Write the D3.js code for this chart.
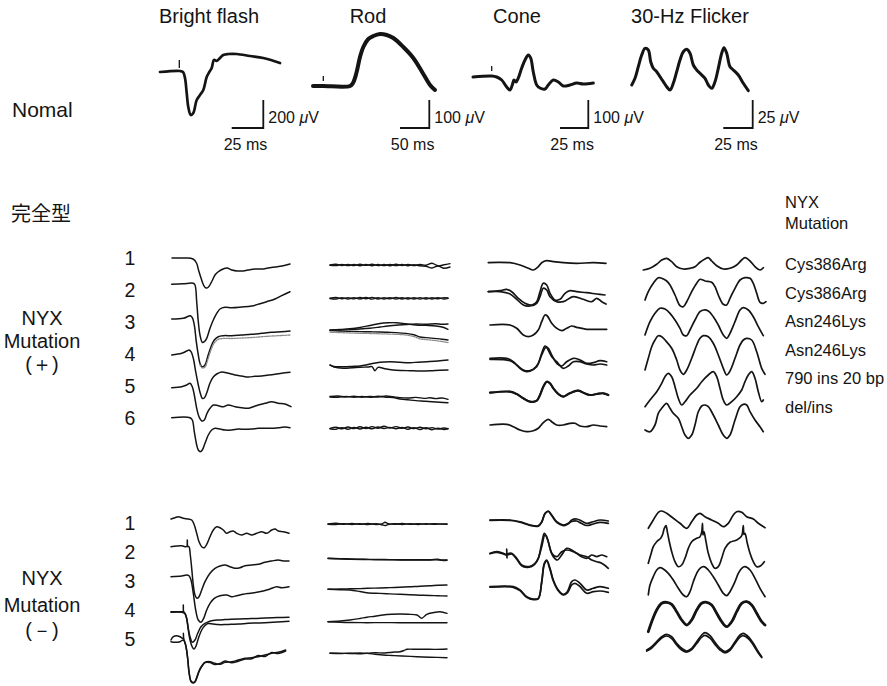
<!DOCTYPE html>
<html>
<head>
<meta charset="utf-8">
<script src="https://cdn.jsdelivr.net/npm/d3@7"></script>
<style>
  body { margin: 0; background: #fff; }
  svg { display: block; font-family: "Liberation Sans", Arial, Helvetica, sans-serif; }
</style>
</head>
<body>
<svg id="chart" width="887" height="686"></svg>
<script>
// ---- labels ----
const columnTitles = ["Bright flash", "Rod", "Cone", "30-Hz Flicker"];
const ampLabels = ["200", "100", "100", "25"];          // µV
const timeLabels = ["25 ms", "50 ms", "25 ms", "25 ms"];
const barTime = [31.6, 29.3, 28.3, 29.4];               // sweep units per bar
const barAmp = [28, 28, 28, 28];
const posRowLabels = ["1", "2", "3", "4", "5", "6"];
const negRowLabels = ["1", "2", "3", "4", "5"];
const mutationNames = ["Cys386Arg", "Cys386Arg", "Asn246Lys", "Asn246Lys", "790 ins 20 bp", "del/ins"];

// ---- normal responses [t, v] ----
const normalBright = [[0,8],[20,9],[23,8],[25,2],[26.7,-13],[28.3,-27],[30.7,-35],[33.3,-33],[36.7,-20],[40,-15],[43.3,-10],[46.7,3],[49.3,8],[51.7,12],[54,20],[56.7,19],[60,22],[63.3,25],[68.3,26],[76.7,26],[90,24],[103.3,22],[120,17]];
const normalRod = [[0,-6],[10,-6],[37,-6],[40,-3],[43.4,7],[47,23],[50.3,33],[55.3,41],[60.3,44],[67,46],[73.7,45],[80.3,42],[90.3,33],[100.3,22],[110.3,6],[117,-5],[122,-10]];
const normalCone = [[0,3],[18.7,4],[23.7,3],[28.7,0],[33.7,-7],[37,-10],[39.3,-5],[41,0],[43,-2],[45.3,2],[48.7,12],[52,20],[55.3,25],[57.7,22],[60.3,8],[63.7,-5],[67,-8],[72,-9],[75.3,-5],[80.3,0],[85.3,-2],[90.3,-6],[97,-5],[103.7,-3],[110.3,-4],[120.3,-3]];
const normalFlicker = [[0.7,-5],[4,1.7],[7.3,13.3],[10.7,25],[14,31.7],[17.3,30],[19.7,18.3],[22.3,11.7],[25.7,8.3],[29,3.3],[32.3,-1.7],[35.7,-6.7],[39,-10],[42.3,-3.3],[45.7,8.3],[49,20],[52.3,28.3],[55.7,30.7],[59,26.7],[62.3,15],[65.7,10],[69,6.7],[74,1.7],[77.3,-5],[80.7,-8.3],[84,-1.7],[87.3,11.7],[90.7,26.7],[93,32.3],[95.7,26.7],[99,13.3],[102.3,10],[107.3,5],[112.3,-3.3],[117.3,-10.7]];
const stimMarks = [[19.3, 12, 20], [10.3, -1, 4], [18.7, 9, 14]];   // [t, v1, v2]

// ---- NYX mutation (+): rows of traces [t, v] ----
const posBright = [
  [[[1,0],[14,0],[22,-1],[25.5,-5],[27.5,-12],[30,-20],[32.5,-27],[35,-30],[37.5,-29],[41,-23],[44,-17],[47,-14],[52,-11],[56,-10],[61,-12],[66,-13],[71,-13],[77,-12],[84,-11],[91,-11],[97,-10],[104,-9],[111,-8],[119,-6]]],
  [[[0.7,5.7],[12,6.2],[22.3,6.7],[24,5],[25.7,-11.7],[27.3,-31.7],[29,-45],[31.3,-52.3],[33.3,-51.7],[35.7,-48.3],[39,-38.3],[42.3,-30],[45.7,-23.3],[49,-19],[54,-17.3],[60.7,-17.7],[70.7,-17],[80.7,-16],[89,-13.7],[95.7,-11.7],[104,-9],[110.7,-5.7],[119,-1.7]]],
  [[[0.7,3],[12.3,3.7],[17.3,5.7],[19.3,6.3],[21.3,4.3],[23.3,-3],[25.3,-19.7],[27.3,-33],[29.3,-42.3],[31.3,-45],[34,-43],[36.7,-34.7],[40,-24.7],[43.3,-18],[47.3,-14.7],[52.3,-13.7],[60.7,-13.7],[70.7,-13],[80.7,-12.3],[90.7,-11.3],[100.7,-10.3],[110.7,-9.7],[119,-9]]],
  [[[0.7,-1],[10.7,0.7],[15.7,3],[18,4],[20,2.3],[22.3,-4.3],[24.7,-17.7],[27.3,-31],[29.3,-39.3],[31.3,-44.3],[33.3,-44],[35.7,-39],[39,-29],[42.3,-23],[45.7,-20],[50.7,-18],[57.3,-19.3],[64,-21],[70.7,-22],[77.3,-23],[84,-22.3],[90.7,-22],[97.3,-21],[104,-20.3],[110.7,-19.3],[119,-18.3]]],
  [[[0.7,-1.7],[10.7,-0.7],[15.7,1],[19,2.7],[21.3,-0.7],[23.3,-9],[25.7,-22.3],[28,-30.7],[30.7,-35],[33.3,-34],[36,-27.3],[39,-22.3],[42.3,-19],[47.3,-19.7],[52.3,-20.7],[57.3,-19],[64,-20.7],[70.7,-21.7],[77.3,-22.3],[82.3,-20.7],[87.3,-19],[94,-17.3],[100.7,-15.7],[107.3,-17.3],[114,-18],[120,-20.7]]],
  [[[0.7,0.3],[19,0.3],[21.3,-2],[23.3,-13.7],[25.7,-27],[27.3,-32],[29.3,-33.7],[31.3,-32],[34,-25.3],[37.3,-17],[40.7,-12],[44,-10.3],[49,-11],[54,-12],[60.7,-12],[67.3,-11],[74,-11.3],[80.7,-11],[87.3,-10.3],[94,-10.3],[100.7,-10.3],[107.3,-9.7],[114,-9],[119,-9.7]]]
];
const posBrightGrey = [[3, [[29,-43],[31.3,-46],[34,-45],[37,-37],[40,-28],[43.3,-21],[47,-17.5],[52,-16.5],[61,-16.5],[71,-16],[81,-15.5],[91,-14.7],[101,-14],[111,-13.5],[119,-13]]]];

const posRod = [
  [[[0,-7],[6,-6.3],[12,-7.5],[18,-6.4],[24,-7.6],[30,-6.3],[36,-7.4],[42,-6.2],[48,-7.6],[54,-6.5],[60,-7.8],[66,-6.2],[72,-7.5],[78,-6.4],[84,-7.6],[90,-6.5],[96,-7.2],[102,-5.2],[108,-7.8],[114,-6.8],[120,-5.6]],
   [[0,-7.3],[6,-7.6],[12,-6.4],[18,-7.6],[24,-6.5],[30,-7.7],[36,-6.4],[42,-7.7],[48,-6.5],[54,-7.6],[60,-6.4],[66,-7.6],[72,-6.5],[78,-7.7],[84,-6.6],[90,-7.8],[96,-8.2],[102,-10],[108,-8],[114,-10.3],[120,-9]]],
  [[[0,-8.3],[6,-7.5],[12,-8.8],[18,-7.6],[24,-8.9],[30,-7.5],[36,-8.8],[42,-7.4],[48,-9],[54,-7.6],[60,-8.9],[66,-7.5],[72,-9],[78,-7.7],[84,-9],[90,-7.6],[96,-9],[102,-7.8],[108,-8.8],[114,-7.6],[118,-8]],
   [[0,-8.5],[6,-9],[12,-7.7],[18,-9],[24,-7.6],[30,-9],[36,-7.5],[42,-9.1],[48,-7.6],[54,-9],[60,-7.6],[66,-9.1],[72,-7.7],[78,-9],[84,-7.8],[90,-9.1],[96,-7.8],[102,-9],[108,-7.7],[114,-9],[118,-8.4]]],
  [[[0,-8],[10,-7.5],[20,-6.8],[30,-5.5],[40,-3.5],[50,-1.5],[58,-0.8],[66,-0.7],[76,-1.8],[86,-3],[96,-3.4],[106,-4],[112,-5],[118,-7.3]],
   [[0,-8.2],[10,-8],[20,-7.6],[30,-7],[40,-6.2],[50,-5],[58,-4],[66,-3.2],[76,-2.6],[86,-2],[96,-2.2],[106,-1.8],[112,-2.3],[118,-2]],
   [[0,-8.6],[10,-9],[20,-9.4],[30,-9.6],[40,-9.8],[50,-10],[58,-10.3],[66,-10.6],[76,-11.4],[84,-12.8],[90,-15],[96,-15.6],[104,-16.4],[112,-17.2],[118,-18]]],
  [[[0,-11],[4,-12.5],[13,-12.7],[22,-12.4],[30,-12],[36,-11],[40,-10],[47,-8.7],[54,-8],[60,-7.7],[70,-8.3],[80,-8.7],[88,-8.2],[97,-7.7],[108,-7],[118,-6]],
   [[0,-11],[4,-13],[13,-14.3],[22,-13.8],[30,-13.3],[38,-13],[42,-12.7],[45,-16.7],[48,-13.3],[55,-14.8],[63,-16],[72,-16.5],[80,-16.7],[90,-17],[100,-16.8],[110,-16.2],[118,-16]]],
  [[[0,-10.5],[8,-10],[16,-11],[24,-10.2],[32,-11.2],[40,-10.4],[48,-11],[56,-10],[63,-10.8],[70,-11.6],[78,-12],[86,-11.4],[94,-12.4],[100,-11.8],[106,-12.6],[112,-12],[118,-13.3]],
   [[0,-11],[8,-11.3],[16,-10.4],[24,-11.3],[32,-10.4],[40,-11.3],[48,-10.3],[56,-11.2],[63,-11.5],[70,-13],[78,-13.8],[86,-14.6],[94,-15.2],[102,-15.8],[110,-16.3],[118,-16.7]]],
  [[[0,-10.5],[6,-9.2],[12,-10.8],[18,-9],[24,-10.6],[30,-8.8],[36,-10.5],[42,-8.6],[48,-10.2],[54,-8.3],[60,-10],[66,-8.6],[72,-10.4],[78,-9],[84,-10.6],[90,-9.2],[96,-10.8],[102,-9.6],[108,-11],[114,-10],[118,-11]],
   [[0,-10.8],[6,-11.3],[12,-9.6],[18,-11.2],[24,-9.4],[30,-11],[36,-9.2],[42,-10.8],[48,-9],[54,-10.5],[60,-9.4],[66,-10.8],[72,-9.4],[78,-11.2],[84,-9.6],[90,-11.5],[96,-9.8],[102,-11.7],[108,-10.2],[114,-11.6],[118,-10.4]]]
];
const posRodGrey = [[3, [[0,-10.2],[10,-10.6],[20,-11],[30,-11.3],[40,-11.5],[50,-11.8],[58,-12],[66,-12.3],[76,-13],[84,-14.5],[90,-16.8],[96,-17.6],[104,-18.4],[112,-19.5],[118,-20.5]]]];

const posCone = [
  [[[0.3,-4.7],[10,-4.3],[22,-4.7],[32,-7],[40.3,-10.3],[45.3,-12],[50.3,-8.7],[53.7,-4.7],[58.7,-2.7],[65.3,-3.7],[75.3,-4.7],[88.7,-5.3],[105.3,-4.7],[118,-5.3]]],
  [[[0.3,-1.7],[12,-0.7],[18.7,0.7],[23.7,-1.7],[30.3,-8.3],[37,-13.3],[43.7,-15],[48.7,-11.7],[52,-1.7],[55.3,6.7],[58.7,5],[62,-3.3],[67,-10],[72,-9.3],[77,-3.3],[82,-0.7],[88.7,-1.7],[98.7,-2.7],[108.7,-4],[117,-5]],
   [[0.3,-1.7],[12,-1.7],[22,-4],[28.7,-9.3],[35.3,-15],[42,-16],[48.7,-13.3],[52,-6.7],[55.3,1.7],[58.7,0],[62,-6.7],[68.7,-11.7],[75.3,-11.7],[85.3,-6.7],[95.3,-9.3],[103.7,-11.7],[108.7,-8.3],[113.7,-11.7],[118,-14]]],
  [[[2,-3],[22,-3],[28.7,-6.3],[35.3,-13],[40.3,-14.7],[45.3,-13],[50.3,-8],[53.7,0.3],[57,7],[59.3,6],[63.7,-1.3],[68.7,-6.3],[73.7,-8.7],[78.7,-6.3],[83.7,-4],[88.7,-5.3],[98.7,-7.3],[108.7,-7.3],[118.7,-7.3]]],
  [[[2,-4.3],[18.7,-4.3],[25.3,-7.7],[32,-14.3],[38.7,-17.7],[45.3,-15.3],[50.3,-9.3],[53.7,0.7],[57,8],[60.3,5.7],[63.7,-1],[68.7,-9.3],[73.7,-12],[78.7,-7.7],[85.3,-4.3],[92,-6],[98.7,-9.3],[105.3,-8.7],[112,-6.7],[118.7,-7.7]],
   [[2,-5.3],[22,-6.7],[28.7,-11],[35.3,-16],[42,-16.7],[48.7,-12.7],[53.7,-1],[58,6.7],[63.7,-2.7],[68.7,-7.7],[75.3,-14.3],[80.3,-12],[85.3,-7.7],[92,-7.7],[98.7,-10],[105.3,-11],[112,-10],[118.7,-11]]],
  [[[2,-6.7],[22,-5.7],[28.7,-8],[35.3,-12.3],[42,-15.7],[48.7,-14.7],[52,-9],[55.3,-0.7],[58.7,4.3],[62,2.7],[65.3,-2.3],[70.3,-8],[75.3,-10.7],[80.3,-8],[85.3,-5.7],[90.3,-4.7],[95.3,-6.7],[102,-9],[108.7,-8],[115.3,-7.3],[120.3,-9]]],
  [[[2,-7],[18.7,-6.3],[25.3,-8.7],[32,-12],[38.7,-13.7],[45.3,-12.7],[50.3,-10.3],[55.3,-4.7],[60.3,-1.3],[63.7,-3.7],[68.7,-7],[75.3,-7],[82,-5.3],[87,-5.3],[92,-8],[98.7,-8.7],[105.3,-7],[112,-8],[118.7,-8.7]]]
];

const posFlicker = [
  [[[0.3,-12],[7,-10.3],[13.7,-6.3],[18.7,-2],[23.7,-0.3],[28.7,-3.7],[33.7,-8.7],[40.3,-11],[47,-10.3],[52,-8.7],[57,-4.3],[62,-1],[65.3,0.3],[68.7,-3],[73.7,-7.7],[80.3,-11],[87,-10.3],[93.7,-7],[98.7,-2],[102,0.3],[107,-3],[112,-8.7],[117,-12],[120.3,-9.7]]],
  [[[2,-10],[5.3,-1.7],[10.3,6.7],[15.3,12.3],[18.7,11.7],[23.7,9],[27,5],[32,-5],[37,-15.7],[40.3,-16.7],[43.7,-11.7],[48.7,-1.7],[53.7,6.7],[57,10.7],[62,9],[68.7,7.7],[72,3.3],[75.3,-5],[80.3,-14.3],[83.7,-15],[87,-8.3],[92,1.7],[97,10],[102,12.3],[107,11.7],[110.3,6.7],[113.7,-3.3],[117,-12.3],[120.3,-13.3],[123,-11.7]]],
  [[[2,-13],[3.7,-8],[7,0.3],[12,8.7],[17,13.7],[22,13],[27,8.7],[32,2],[37,-6.3],[40.3,-13],[43.7,-13.7],[47,-8],[52,2],[57,10.3],[61,12],[65.3,11],[70.3,5.3],[75.3,-3],[80.3,-13],[83.7,-16.3],[87,-11.3],[92,0.3],[97,12],[100.3,14.3],[105.3,12],[110.3,5.3],[115.3,-4.7],[120.3,-13.7]]],
  [[[2,-16],[5.3,-4.3],[8.7,7.3],[12,14],[15.3,18.3],[18.7,17.3],[22,14],[28.7,5.7],[33.7,-6],[37,-16],[40.3,-20.3],[43.7,-16],[48.7,-4.3],[53.7,9],[57,15.7],[60.3,18.3],[65.3,17.3],[70.3,10.7],[75.3,-1],[80.3,-14.3],[83.7,-21],[87,-17],[92,-4.3],[97,9],[100.3,14],[103.7,15.7],[108.7,14],[113.7,2.3],[118.7,-14.3],[122,-20.3]]],
  [[[2,-20.7],[7,-14],[13.7,-5.7],[18.7,2.7],[22,9.3],[25.3,12.7],[28.7,9.3],[32,-0.7],[35.3,-12.3],[38.7,-19],[42,-15.7],[47,-9],[53.7,-2.3],[58.7,4.3],[65.3,11],[70.3,14.3],[73.7,9.3],[77,-2.3],[80.3,-14],[83.7,-19],[88.7,-15.7],[93.7,-10.7],[98.7,-4],[102,4.3],[105.3,11],[108.7,14.3],[112,7.7],[115.3,-5.7],[118.7,-15.7],[120.3,-14]]],
  [[[2,-12],[7,-13.7],[12,-7],[15.3,4.7],[18.7,9.7],[23.7,14.7],[27,9.7],[30.3,4.7],[35.3,-0.3],[38.7,-8.7],[42,-17],[45.3,-20.3],[48.7,-17],[52,-7],[55.3,6.3],[58.7,12],[62,13],[65.3,11.3],[70.3,3],[75.3,-7],[80.3,-17],[83.7,-20.3],[87,-17],[92,-2],[97,11.3],[100.3,13.7],[103.7,13],[107,6.3],[112,-2],[117,-8.7],[120.3,-13.7]]]
];

// ---- NYX mutation (−) ----
const negBright = [
  [[[0,4],[4,5.3],[7.3,6.3],[12.3,4.7],[17.3,4],[20.7,3],[23.3,-2],[25.7,-10.3],[28,-18.7],[30.7,-23.7],[33.3,-24.7],[35.7,-21.3],[39,-13.7],[42.3,-7],[45.7,-3.7],[49,-4.7],[52.3,-7],[55.7,-10.3],[59,-8.7],[62.3,-8],[65.7,-10.3],[70.7,-12],[75.7,-10.3],[80.7,-12],[85.7,-10.3],[90.7,-8.7],[95.7,-10.3],[100.7,-7],[104,-6],[107.3,-8],[112.3,-8.7],[118,-10.3]]],
  [[[0,5.3],[10.7,6.3],[14,5.3],[15.8,5.5],[16.3,12],[16.8,5.5],[18,5.3],[19.3,-3],[20.7,-16.3],[22.3,-33],[24,-43],[26,-46.3],[28,-44.7],[30.7,-38],[34,-29.7],[39,-21.3],[44,-16.3],[49,-14],[54,-13],[59,-14.7],[64,-16.3],[69,-15.7],[74,-13.7],[80.7,-13],[87.3,-12.3],[94,-10.3],[100.7,-9],[107.3,-8],[112.3,-9],[118,-9]]],
  [[[0,4.3],[10.7,5],[15.7,6],[18,5.3],[20,1],[22.3,-12.3],[24.7,-29],[27.3,-39],[30,-41.3],[32.7,-37.3],[35.7,-29],[39,-22.3],[43.3,-17.3],[49,-14.7],[55.7,-14],[60.7,-15.7],[65.7,-14.7],[72.3,-13.3],[79,-12.3],[85.7,-11.3],[92.3,-10],[99,-8],[105.7,-5.7],[110.7,-6.7],[118,-5.7]]],
  [[[0,-1.7],[10.7,-1.7],[12,-1.5],[12.3,5],[12.6,-1.6],[14,-3.3],[15.7,-8.3],[17.3,-18.3],[19,-26.7],[21.3,-32.3],[24,-30],[26.7,-23.3],[30,-16.7],[34,-13.3],[37,-12],[42,-10.6],[47,-10],[54,-9.6],[60,-9.3],[68,-9],[77,-8.7],[86,-8.4],[94,-8],[106,-7.6],[118,-7.3]],
   [[0,-2.3],[10.7,-2.3],[14,-3.8],[15.7,-9],[17.3,-20],[19,-30],[21.3,-37],[23,-39],[25,-36],[27.5,-28],[30.7,-20],[34,-15.5],[37,-13.5],[42,-14],[47,-14.6],[54,-14.6],[60,-14.3],[68,-14],[77,-13.3],[86,-13],[94,-12.7],[106,-12],[118,-11.3]]],
  [[[0,-1],[2.3,2.3],[5.7,3.3],[9,2.3],[12.1,0.7],[12.4,5.7],[12.7,0.5],[14.7,-6],[16.7,-19.3],[18,-32.7],[20,-42.7],[22,-44],[24,-43],[25.7,-39.3],[28,-32.7],[30.7,-27.7],[34,-23.3],[39,-22.7],[44,-24.3],[49,-25.3],[54,-23.3],[60.7,-22.7],[67.3,-21],[74,-19.3],[80.7,-18.7],[87.3,-17.7],[94,-16],[100.7,-14.3],[107.3,-13.3],[114.7,-11]],
   [[0,-2.7],[4,-3.3],[9,-2.7],[12.3,-1],[14.7,-6.5],[16.7,-20],[18,-33],[20,-42],[22,-43.5],[24,-42.5],[25.7,-38.5],[28,-32],[30.7,-27],[34,-23.5],[39,-23.5],[44,-25.5],[49,-24.5],[54,-22],[60.7,-23.8],[67.3,-22.2],[74,-20],[80.7,-19.8],[87.3,-16.5],[94,-17.5],[100.7,-13.5],[107.3,-14.5],[114.7,-12]]]
];

const negRod = [
  [[[-2,-1],[6,-0.3],[14,-1.3],[22,-0.4],[30,-1.4],[38,-0.5],[46,-1.5],[52,-0.8],[55,0.8],[58,-0.6],[64,-1.4],[72,-0.5],[80,-1.3],[88,-0.6],[96,-1.2],[104,-0.6],[112,-1.1],[117,-1]],
   [[-2,-1.2],[6,-1.5],[14,-0.6],[22,-1.5],[30,-0.6],[38,-1.6],[46,-0.7],[52,-1.8],[55,-2.6],[58,-1.6],[64,-0.6],[72,-1.5],[80,-0.7],[88,-1.5],[96,-0.8],[104,-1.4],[112,-0.9],[117,-1.2]]],
  [[[-2,-6.3],[10,-6.6],[20,-7],[30,-7.2],[40,-7.4],[50,-7.5],[60,-7.6],[70,-7.7],[80,-7.8],[90,-7.8],[100,-7.7],[110,-8],[117,-8]],
   [[-2,-6.5],[20,-7.2],[40,-7.6],[60,-7.8],[80,-8],[100,-8],[108,-7.2],[112,-8.4],[117,-8.2]]],
  [[[-2,-8.3],[10,-8],[20,-7.8],[30,-7.6],[37,-7.3],[50,-7],[60,-6.6],[70,-6.3],[80,-5.8],[90,-5.2],[100,-4.8],[108,-4.2],[117,-4]],
   [[-2,-8.3],[10,-8.7],[20,-9],[30,-10.5],[37,-11.7],[50,-12.4],[60,-12.9],[70,-13.3],[80,-13.8],[90,-14.2],[100,-14.5],[108,-14.8],[117,-15]]],
  [[[-2,-11.7],[10,-11],[20,-10],[30,-8.5],[37,-7.3],[45,-6.2],[53,-5],[62,-4.3],[70,-4],[78,-4.3],[87,-5],[91.7,-8.3],[96.7,-4.3],[104,-2.5],[110,-1.7],[117,-3.3]],
   [[-2,-11.7],[10,-12.2],[20,-12.5],[37,-12.7],[55,-12.6],[70,-12.7],[90,-12.8],[105,-12.7],[117,-12.7]]],
  [[[0,-14.3],[10,-14.2],[20,-14.5],[30,-14],[37,-14.3],[45,-13.8],[55,-14],[62,-13.2],[70,-12.7],[74,-11.5],[77,-10.3],[86.7,-10.3],[95,-10.2],[105,-10.4],[117,-10]],
   [[0,-14.3],[10,-14.6],[20,-14.2],[30,-14.8],[37,-14.4],[45,-15.2],[53,-16],[62,-16.5],[72,-17],[87,-17.7],[100,-18.2],[117,-18.7]]]
];

const negCone = [
  [[[2,3],[22,3],[32,1.3],[42,-2],[50.3,-2.7],[53.7,1.3],[57,9.7],[60.3,12],[63.7,8],[68.7,1.3],[75.3,-2],[80.3,-0.3],[83.7,3],[88.7,4],[93.7,2],[98.7,-0.3],[105.3,1.3],[112,3],[120.3,2]],
   [[2,2.6],[22,2.5],[32,0.8],[42,-2.4],[50.3,-3.1],[53.7,0.8],[57,9.2],[60.3,11.5],[63.7,7.4],[68.7,0.6],[75.3,-2.6],[80.3,-0.8],[83.7,1.5],[88.7,2],[93.7,-0.5],[98.7,-2.5],[105.3,-1],[112,0.7],[120.3,-0.3]]],
  [[[2,-1.3],[8.7,0.3],[15.3,-1.3],[18.4,-2.3],[18.7,3],[19,-6],[19.3,-2.3],[23.7,-1.3],[28.7,-6.3],[33.7,-13],[38.7,-14.7],[43.7,-13.7],[47,-11.3],[50.3,-6.3],[53.7,8.7],[56.3,18.7],[58.7,15.3],[62,3.7],[65.3,-4.7],[69.3,-8],[73.7,-3],[78.7,3.7],[83.7,2],[88.7,-1.3],[93.7,-4.7],[98.7,-6.3],[103.7,-3],[108.7,-4.7],[113.7,-3],[118.7,-4.7]],
   [[2,-1.8],[8.7,-0.4],[15.3,-2],[18.7,-3],[23.7,-2],[28.7,-7.2],[33.7,-13.8],[38.7,-15.4],[43.7,-14.4],[47,-12],[50.3,-6.3],[53.7,5.3],[57,17],[60.3,10.3],[63.7,-1.3],[68.7,-4.7],[73.7,0.3],[78.7,2],[85.3,0.3],[92,-3],[98.7,-4.7],[103.7,-8],[108.7,-9.7],[113.7,-11.3],[120.3,-16.3]]],
  [[[2,-5.7],[25.3,-5.7],[32,-9],[38.7,-15.7],[45.3,-18],[50.3,-17.3],[53.7,-0.7],[56.3,17.7],[58.7,21],[62,12.7],[65.3,1],[70.3,-9],[75.3,-13.3],[79.3,-10.7],[83.7,-0.7],[87,1],[92,-2.3],[98.7,-9],[105.3,-7.3],[112,-5.7],[120.3,-7.3]],
   [[2,-6.2],[25.3,-6.3],[32,-9.6],[38.7,-16.3],[45.3,-18.6],[50.3,-17.8],[53.7,-1.5],[56.3,16.5],[58.7,20],[62,11.5],[65.3,0],[70.3,-9.8],[75.3,-14],[79.3,-12],[83.7,-4],[87,-2.3],[92,-5.7],[98.7,-12.3],[105.3,-10.7],[112,-10],[120.3,-11.3]]]
];

const negFlicker = [
  [[[5.3,-5.3],[10.3,3],[15.3,10.7],[18.7,12],[23.7,9.7],[30.3,4.7],[37,-0.3],[43.7,-5.3],[48.7,1.3],[53.7,8],[57,9.7],[62,6.3],[68.7,3],[75.3,-0.3],[80.3,-3.7],[85.3,-0.3],[90.3,8],[93.7,11.3],[98.7,10.7],[103.7,6.3],[110.3,4],[115.3,-0.3],[122,-4.7]]],
  [[[5.3,-11.3],[7.7,-3],[10.3,5.3],[13.7,10.3],[17.7,13.7],[19.7,17.7],[21.3,23.7],[23,26.3],[24.3,20.3],[26.3,10.3],[28.7,0.3],[32,-9.7],[35.3,-14.7],[38.7,-13],[42,-6.3],[45.3,3.7],[48.7,10.3],[53.7,13.7],[57,15.3],[58.7,20],[59.5,28.7],[60,17],[61,20.3],[63,10.3],[65.3,-1.3],[68.7,-11.3],[72,-16.3],[75.3,-14.7],[78.7,-6.3],[82,3.7],[87,9.7],[93.7,12],[98,15.3],[99.3,18],[100.3,26.3],[101,17.5],[102,18.7],[104.3,8.7],[107,-1.3],[110.3,-9.7],[113.7,-14.7],[117.7,-13.7],[121.3,-9.7]]],
  [[[5.3,-14],[7,-4],[10.3,4.3],[13.7,11],[17,13.3],[20.3,12],[25.3,7.7],[30.3,1],[35.3,-7.3],[40.3,-14],[43.7,-15.7],[47,-10.7],[50.3,-0.7],[53.7,7.7],[57,12.7],[61,14.3],[65.3,11],[70.3,4.3],[75.3,-4],[80.3,-12.3],[83.7,-14.7],[87,-10.7],[92,-0.7],[95.3,7.7],[98.7,12.7],[102,14.3],[107,11],[112,2.7],[117,-7.3],[122,-15.7]]],
  [[[5.3,-21.7],[8.7,-11.7],[13.7,0],[18.7,6.7],[23.7,7.7],[28.7,5.7],[33.7,-1.7],[38.7,-10],[43.7,-15],[48.7,-10],[53.7,0],[58.7,6.7],[63.7,7.7],[68.7,5],[73.7,-3.3],[78.7,-11.7],[83.7,-16.7],[88.7,-11.7],[93.7,-1.7],[98.7,6.7],[103.7,8.3],[108.7,5],[113.7,-3.3],[118.7,-11.7],[122,-15]]],
  [[[3.7,-11],[8.7,-7.7],[13.7,-2.7],[18.7,2.3],[23.7,4.7],[28.7,2.3],[33.7,-4.3],[38.7,-9.3],[43.7,-12],[48.7,-9.3],[53.7,-2.7],[58.7,4],[62,6.3],[67,3.3],[72,-3.3],[77,-9.3],[82,-12.7],[87,-10],[92,-2.7],[97,4],[100.3,5.7],[105.3,2.3],[110.3,-4.3],[115.3,-12.7],[118.7,-17.7]],
   [[3.7,-12],[8.7,-9],[13.7,-4],[18.7,1],[23.7,3],[28.7,0.5],[33.7,-6],[38.7,-11],[43.7,-13.2],[48.7,-10.6],[53.7,-4.5],[58.7,1.8],[62,3.6],[67,0.8],[72,-5.4],[77,-11],[82,-14],[87,-11.4],[92,-4.5],[97,1.8],[100.3,3.4],[105.3,0.5],[110.3,-6],[115.3,-14],[118.7,-18.5]]]
];

// ---- layout ----
const ink = "#141414";
const topX0 = [160, 313, 473, 631];
const colX0 = [171, 330, 488, 643];
const titleX = [209, 368, 517, 690];
const normalY = 80;
const barRight = [103.3, 116.3, 115.3, 121.7];
const barBottomV = -48;
const topWidth = [2.7, 4, 3, 3];
const colWidth = [1.5, 1.4, 1.7, 1.7];

const svg = d3.select("#chart");
const amp = d3.scaleLinear().domain([-60, 60]).range([60, -60]);
const topX = topX0.map(x0 => d3.scaleLinear().domain([0, 120]).range([x0, x0 + 120]));
const colX = colX0.map(x0 => d3.scaleLinear().domain([0, 120]).range([x0, x0 + 120]));
const posRow = d3.scaleLinear().domain([1, 6]).range([258, 418]);
const negRow = d3.scaleLinear().domain([1, 5]).range([523, 639]);
const mutY = d3.scaleLinear().domain([0, 5]).range([270, 413]);

const lineFor = (x, base) => d3.line()
  .x(d => x(d[0]))
  .y(d => base + amp(d[1]))
  .curve(d3.curveCatmullRom.alpha(0.5));

function trace(g, pts, x, base, w, color, dash) {
  g.append("path")
    .attr("d", lineFor(x, base)(pts))
    .attr("fill", "none")
    .attr("stroke", color || ink)
    .attr("stroke-width", w)
    .attr("stroke-linejoin", "round")
    .attr("stroke-linecap", "round")
    .attr("stroke-dasharray", dash || null);
}

// ---- normal row ----
const normalG = svg.append("g");
normalG.selectAll("text.title")
  .data(columnTitles)
  .join("text")
    .attr("class", "title")
    .attr("x", (d, i) => titleX[i])
    .attr("y", 23)
    .attr("text-anchor", "middle")
    .attr("font-size", 20)
    .attr("fill", ink)
    .text(d => d);

[normalBright, normalRod, normalCone, normalFlicker].forEach((pts, i) => {
  trace(normalG, pts, topX[i], normalY, topWidth[i]);
});

stimMarks.forEach((m, i) => {
  normalG.append("line")
    .attr("x1", topX[i](m[0])).attr("x2", topX[i](m[0]))
    .attr("y1", normalY + amp(m[1])).attr("y2", normalY + amp(m[2]))
    .attr("stroke", ink).attr("stroke-width", 1.3);
});

// scale bars
columnTitles.forEach((_, i) => {
  const x = topX[i];
  const xr = x(barRight[i]), xl = x(barRight[i] - barTime[i]);
  const yb = normalY + amp(barBottomV), yt = normalY + amp(barBottomV + barAmp[i]);
  normalG.append("path")
    .attr("d", `M${xl},${yb}H${xr}V${yt}`)
    .attr("fill", "none").attr("stroke", ink).attr("stroke-width", 1.8);
  const t = normalG.append("text")
    .attr("x", xr + 5).attr("y", yb - 5.5)
    .attr("font-size", 16).attr("fill", ink);
  t.append("tspan").text(ampLabels[i] + " ");
  t.append("tspan").attr("font-style", "italic").text("μ");
  t.append("tspan").text("V");
  normalG.append("text")
    .attr("x", (xl + xr) / 2 - 2).attr("y", yb + 21.5)
    .attr("text-anchor", "middle").attr("font-size", 16).attr("fill", ink)
    .text(timeLabels[i]);
});

// ---- left labels ----
const leftG = svg.append("g").attr("fill", ink).attr("font-size", 20);
leftG.append("text").attr("x", 12).attr("y", 117).attr("font-size", 21).text("Nomal");
leftG.append("text").attr("x", 11).attr("y", 221)
  .attr("font-family", "'Noto Sans CJK JP', 'Noto Sans CJK SC', sans-serif")
  .text("完全型");
[["NYX", 325], ["Mutation", 348], ["(＋)", 371]].forEach(d =>
  leftG.append("text").attr("x", 42).attr("y", d[1]).attr("text-anchor", "middle").text(d[0]));
[["NYX", 585], ["Mutation", 612], ["(－)", 637]].forEach(d =>
  leftG.append("text").attr("x", 42).attr("y", d[1]).attr("text-anchor", "middle").text(d[0]));

// row numbers
svg.append("g").selectAll("text")
  .data(posRowLabels.map((d, i) => ({ d, y: posRow(i + 1) }))
    .concat(negRowLabels.map((d, i) => ({ d, y: negRow(i + 1) }))))
  .join("text")
    .attr("x", 130).attr("y", d => d.y)
    .attr("dy", "0.36em")
    .attr("text-anchor", "middle").attr("font-size", 19.5).attr("fill", ink)
    .text(d => d.d);

// right labels
const rightG = svg.append("g").attr("fill", ink).attr("font-size", 16.5);
rightG.append("text").attr("x", 785).attr("y", 208).text("NYX");
rightG.append("text").attr("x", 785).attr("y", 229).text("Mutation");
rightG.selectAll("text.mut")
  .data(mutationNames)
  .join("text")
    .attr("class", "mut")
    .attr("x", 785).attr("y", (d, i) => mutY(i))
    .text(d => d);

// ---- patient traces ----
const lowerG = svg.append("g");
function drawSection(columns, rowScale) {
  columns.forEach((rows, c) => {
    rows.forEach((lines, r) => {
      lines.forEach(pts => trace(lowerG, pts, colX[c], rowScale(r + 1), colWidth[c]));
    });
  });
}
drawSection([posBright, posRod, posCone, posFlicker], posRow);
drawSection([negBright, negRod, negCone, negFlicker], negRow);

posBrightGrey.forEach(([r, pts]) => trace(lowerG, pts, colX[0], posRow(r), 1.3, "#8a8a8a", "1.5 1.2"));
posRodGrey.forEach(([r, pts]) => trace(lowerG, pts, colX[1], posRow(r), 1.3, "#8a8a8a", "1.5 1.2"));
// heavier double-sweep rows
trace(lowerG, negFlicker[3][0], colX[3], negRow(4), 2.8);
trace(lowerG, posCone[4][0], colX[2], posRow(5), 2.2);
</script>
</body>
</html>
